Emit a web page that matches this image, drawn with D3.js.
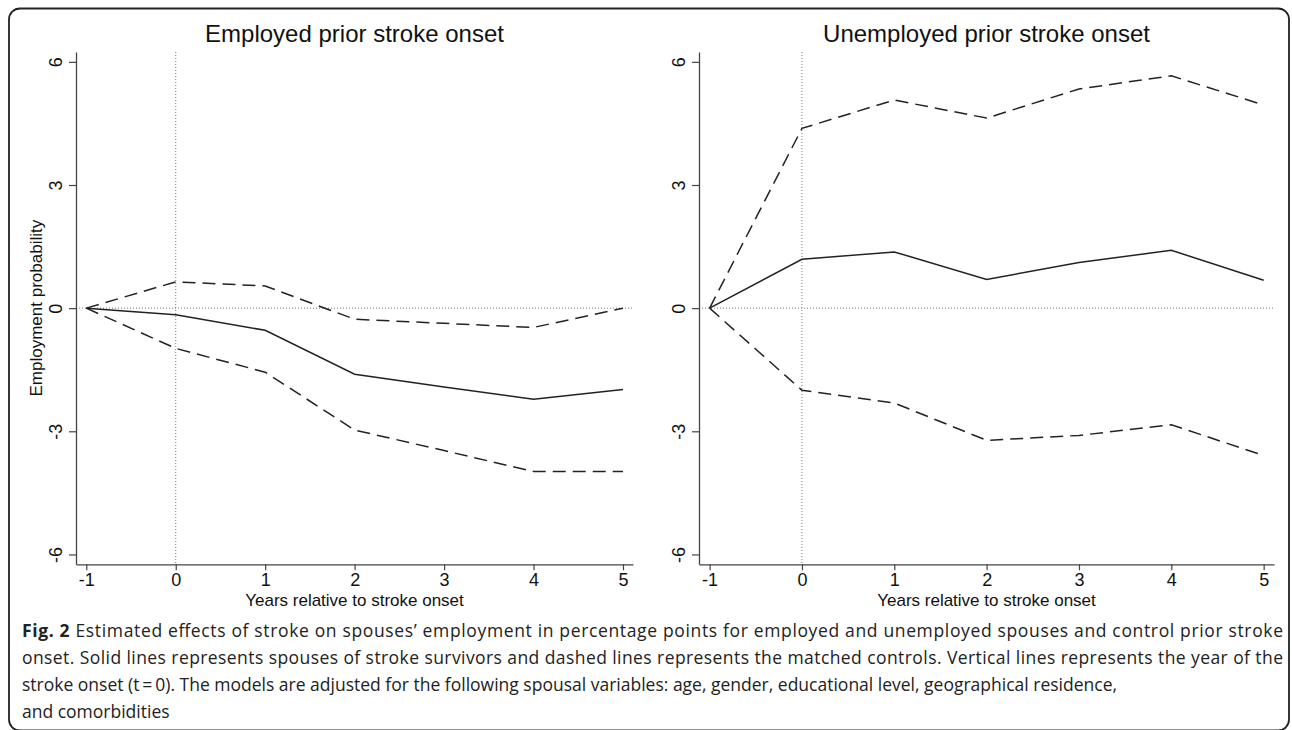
<!DOCTYPE html>
<html>
<head>
<meta charset="utf-8">
<script src="https://cdn.jsdelivr.net/npm/d3@7"></script>
<style>
  body { margin: 0; background: #fff; }
  svg { display: block; }
</style>
</head>
<body>
<script>
// chart values
const years = [-1, 0, 1, 2, 3, 4, 5];
const xTicks = [-1, 0, 1, 2, 3, 4, 5];
const yTicks = [-6, -3, 0, 3, 6];

// employed prior stroke onset
const empSolid = [0, -0.16, -0.54, -1.61, -1.92, -2.22, -1.98];
const empUpper = [0, 0.64, 0.54, -0.27, -0.37, -0.47, 0.0];
const empLower = [0, -0.98, -1.56, -2.97, -3.47, -3.98, -3.98];

// unemployed prior stroke onset
const unempSolid = [0, 1.19, 1.37, 0.70, 1.11, 1.41, 0.68];
const unempUpper = [0, 4.38, 5.07, 4.63, 5.34, 5.66, 4.95];
const unempLower = [0, -2.00, -2.31, -3.22, -3.10, -2.84, -3.59];

const panelTitles = ['Employed prior stroke onset', 'Unemployed prior stroke onset'];
const xLabel = 'Years relative to stroke onset';
const yLabel = 'Employment probability';

const captionLines = [
  ['Fig. 2', ' Estimated effects of stroke on spouses\u2019 employment in percentage points for employed and unemployed spouses and control prior stroke'],
  ['', 'onset. Solid lines represents spouses of stroke survivors and dashed lines represents the matched controls. Vertical lines represents the year of the'],
  ['', 'stroke onset (t\u2009=\u20090). The models are adjusted for the following spousal variables: age, gender, educational level, geographical residence,'],
  ['', 'and comorbidities']
];

const width = 1292;
const height = 730;

const svg = d3.select('body')
  .append('svg')
  .attr('width', width)
  .attr('height', height);

// outer frame of the figure
svg.append('rect')
  .attr('x', 9)
  .attr('y', 8.5)
  .attr('width', 1280)
  .attr('height', 722)
  .attr('rx', 11)
  .attr('fill', 'none')
  .attr('stroke', '#222')
  .attr('stroke-width', 1.8);

const chartFont = "'Liberation Sans', Arial, sans-serif";
const yTop = 52, yBottom = 564.3;

const y = d3.scaleLinear()
  .domain([-6.24, 6.24])
  .range([yBottom, yTop]);

const signed = d => d < 0 ? '-' + Math.abs(d) : String(d);

const drawPanel = (x0, x1, title, solid, upper, lower, withYLabel) => {
  const x = d3.scaleLinear()
    .domain([-1.115, 5.112])
    .range([x0, x1]);

  const g = svg.append('g');

  // title
  g.append('text')
    .attr('x', (x0 + x1) / 2)
    .attr('y', 42)
    .attr('text-anchor', 'middle')
    .style('font-family', chartFont)
    .style('font-size', '24px')
    .attr('fill', '#111')
    .text(title);

  // reference lines at t = 0 and effect = 0
  g.append('line')
    .attr('x1', x(0)).attr('x2', x(0))
    .attr('y1', yTop).attr('y2', yBottom)
    .attr('stroke', '#777')
    .attr('stroke-width', 1)
    .attr('stroke-dasharray', '1,2');

  g.append('line')
    .attr('x1', x0).attr('x2', x1)
    .attr('y1', y(0)).attr('y2', y(0))
    .attr('stroke', '#777')
    .attr('stroke-width', 1)
    .attr('stroke-dasharray', '1,2');

  // x axis
  const xAxis = g.append('g')
    .attr('transform', `translate(0,${yBottom})`)
    .call(d3.axisBottom(x).tickValues(xTicks).tickSize(6).tickSizeOuter(0));
  xAxis.select('.domain').attr('stroke', '#444').attr('stroke-width', 1.3);
  xAxis.selectAll('.tick line').attr('stroke', '#444').attr('stroke-width', 1.2);
  xAxis.selectAll('.tick text')
    .attr('y', 21.5)
    .attr('dy', 0)
    .style('font-family', chartFont)
    .style('font-size', '18px')
    .attr('fill', '#111')
    .text(signed);

  // y axis
  const yAxis = g.append('g')
    .attr('transform', `translate(${x0},0)`)
    .call(d3.axisLeft(y).tickValues(yTicks).tickSize(7).tickSizeOuter(0));
  yAxis.select('.domain').attr('stroke', '#444').attr('stroke-width', 1.3);
  yAxis.selectAll('.tick line').attr('stroke', '#444').attr('stroke-width', 1.2);
  yAxis.selectAll('.tick text')
    .attr('x', 0)
    .attr('dy', 0)
    .attr('text-anchor', 'middle')
    .attr('transform', 'translate(-14,0) rotate(-90)')
    .style('font-family', chartFont)
    .style('font-size', '18px')
    .attr('fill', '#111')
    .text(signed);

  // axis titles
  g.append('text')
    .attr('x', (x0 + x1) / 2)
    .attr('y', 606)
    .attr('text-anchor', 'middle')
    .style('font-family', chartFont)
    .style('font-size', '17px')
    .attr('fill', '#111')
    .text(xLabel);

  if (withYLabel) {
    g.append('text')
      .attr('transform', `translate(42,${y(0)}) rotate(-90)`)
      .attr('text-anchor', 'middle')
      .style('font-family', chartFont)
      .style('font-size', '17px')
      .attr('fill', '#111')
      .text(yLabel);
  }

  const line = d3.line()
    .x((d, i) => x(years[i]))
    .y(d => y(d));

  // matched controls (dashed)
  [upper, lower].forEach(s => {
    g.append('path')
      .datum(s)
      .attr('d', line)
      .attr('fill', 'none')
      .attr('stroke', '#222')
      .attr('stroke-width', 1.5)
      .attr('stroke-dasharray', '13,7');
  });

  // spouses of stroke survivors (solid)
  g.append('path')
    .datum(solid)
    .attr('d', line)
    .attr('fill', 'none')
    .attr('stroke', '#222')
    .attr('stroke-width', 1.5);
};

drawPanel(76, 633, panelTitles[0], empSolid, empUpper, empLower, true);
drawPanel(699, 1274, panelTitles[1], unempSolid, unempUpper, unempLower, false);

// caption under the figure
const captionFont = "'Open Sans', 'Noto Sans', sans-serif";
const capX = 22, capRight = 1283;
const capBase = [637, 664, 691, 718];

captionLines.forEach((parts, i) => {
  const t = svg.append('text')
    .attr('x', capX)
    .attr('y', capBase[i])
    .style('font-family', captionFont)
    .style('font-size', '17.5px')
    .attr('fill', '#222');
  if (parts[0]) {
    t.append('tspan').style('font-weight', 'bold').text(parts[0]);
  }
  t.append('tspan').text(parts[1]);
  // first two lines are justified to the full width
  if (i < 2) {
    t.attr('textLength', capRight - capX).attr('lengthAdjust', 'spacing');
  }
});
</script>
</body>
</html>
